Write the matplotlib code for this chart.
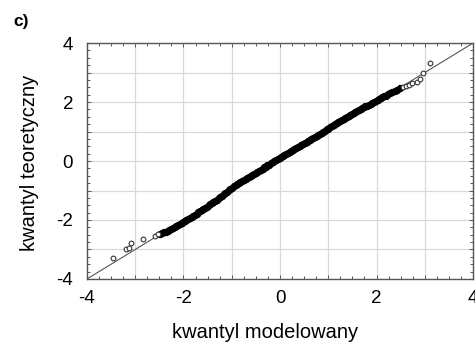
import matplotlib
matplotlib.use('Agg')
import matplotlib.pyplot as plt
from matplotlib.ticker import MultipleLocator, FuncFormatter

plt.rcParams['font.family'] = ['Liberation Sans', 'DejaVu Sans']

# kwantyle: modelowany (x) i teoretyczny (y)
x_tail_low = [-3.46, -3.19, -3.12, -3.08, -2.84, -2.59, -2.53]
y_tail_low = [-3.29, -2.98, -2.95, -2.79, -2.64, -2.54, -2.49]

x_band = [-2.49, -2.45, -2.41, -2.36, -2.33, -2.29, -2.25, -2.22, -2.18, -2.15,
          -2.11, -2.08, -2.04, -2.01, -1.97, -1.94, -1.90, -1.87, -1.83, -1.80,
          -1.76, -1.73, -1.69, -1.66, -1.62, -1.59, -1.55, -1.52, -1.48, -1.45,
          -1.41, -1.38, -1.34, -1.31, -1.27, -1.24, -1.20, -1.17, -1.13, -1.10,
          -1.06, -1.03, -0.99, -0.96, -0.92, -0.89, -0.85, -0.82, -0.78, -0.75,
          -0.71, -0.68, -0.64, -0.61, -0.57, -0.54, -0.50, -0.47, -0.43, -0.40,
          -0.36, -0.33, -0.29, -0.26, -0.22, -0.19, -0.15, -0.12, -0.08, -0.05,
          -0.01, 0.02, 0.06, 0.09, 0.13, 0.16, 0.20, 0.23, 0.27, 0.30,
          0.34, 0.37, 0.41, 0.44, 0.48, 0.51, 0.55, 0.58, 0.62, 0.65,
          0.69, 0.72, 0.76, 0.79, 0.83, 0.86, 0.90, 0.93, 0.97, 1.00,
          1.04, 1.07, 1.11, 1.14, 1.18, 1.21, 1.25, 1.28, 1.32, 1.35,
          1.39, 1.42, 1.46, 1.49, 1.53, 1.56, 1.60, 1.63, 1.67, 1.70,
          1.74, 1.77, 1.81, 1.84, 1.88, 1.91, 1.95, 1.98, 2.02, 2.05,
          2.09, 2.12, 2.16, 2.20, 2.24, 2.28, 2.33, 2.38, 2.43, 2.49]
y_band = [-2.46, -2.44, -2.42, -2.39, -2.37, -2.34, -2.31, -2.27, -2.24, -2.20,
          -2.17, -2.13, -2.10, -2.06, -2.03, -1.99, -1.96, -1.92, -1.89, -1.85,
          -1.82, -1.78, -1.74, -1.71, -1.67, -1.63, -1.58, -1.55, -1.50, -1.47,
          -1.42, -1.39, -1.34, -1.31, -1.26, -1.22, -1.17, -1.13, -1.08, -1.04,
          -0.99, -0.95, -0.90, -0.86, -0.82, -0.78, -0.75, -0.71, -0.68, -0.64,
          -0.61, -0.57, -0.54, -0.50, -0.47, -0.43, -0.40, -0.36, -0.33, -0.29,
          -0.26, -0.22, -0.19, -0.15, -0.12, -0.08, -0.05, -0.01, 0.02, 0.06,
          0.10, 0.13, 0.17, 0.20, 0.24, 0.27, 0.31, 0.34, 0.38, 0.41,
          0.45, 0.48, 0.52, 0.55, 0.58, 0.62, 0.65, 0.69, 0.72, 0.75,
          0.79, 0.82, 0.86, 0.89, 0.93, 0.96, 1.00, 1.03, 1.07, 1.10,
          1.14, 1.17, 1.21, 1.24, 1.28, 1.31, 1.35, 1.38, 1.42, 1.45,
          1.49, 1.52, 1.56, 1.59, 1.63, 1.66, 1.70, 1.73, 1.76, 1.79,
          1.82, 1.85, 1.88, 1.91, 1.94, 1.97, 2.01, 2.04, 2.07, 2.10,
          2.13, 2.16, 2.19, 2.22, 2.26, 2.29, 2.33, 2.37, 2.42, 2.47]

x_tail_high = [2.55, 2.60, 2.67, 2.74, 2.83, 2.91, 2.97, 3.10]
y_tail_high = [2.51, 2.54, 2.58, 2.64, 2.68, 2.78, 2.98, 3.32]

LIMITS = [-4, 4]

fig = plt.figure(figsize=(4.75, 3.47), dpi=100)
ax = fig.add_axes([0.183, 0.196, 0.813, 0.680])

# linia odniesienia y = x
ax.plot(LIMITS, LIMITS, color='#555555', linewidth=0.8, zorder=2)

# gęsta środkowa część - punkty nakładają się w ciemny pas
ax.plot(x_band, y_band, linestyle='none', marker='o', markersize=4.3,
        markerfacecolor='black', markeredgecolor='black',
        markeredgewidth=1.0, zorder=3)
# pojedyncze punkty w ogonach
ax.plot(x_tail_low + x_tail_high, y_tail_low + y_tail_high, linestyle='none',
        marker='o', markersize=3.4, markerfacecolor='white',
        markeredgecolor='#333333', markeredgewidth=0.8, zorder=3)

ax.set_xlim(LIMITS)
ax.set_ylim(LIMITS)

even_only = FuncFormatter(lambda v, pos: f"{int(round(v))}" if round(v) % 2 == 0 else "")
for axis in (ax.xaxis, ax.yaxis):
    axis.set_major_locator(MultipleLocator(1))
    axis.set_minor_locator(MultipleLocator(0.25))
    axis.set_major_formatter(even_only)

ax.grid(True, which='major', color='#d9d9d9', linewidth=0.9, zorder=0)
ax.set_axisbelow(True)
ax.tick_params(which='both', direction='in', top=True, right=True,
               color='#555555', width=0.7)
ax.tick_params(which='major', length=3, labelsize=13.5)
ax.tick_params(axis='x', which='major', pad=8)
ax.tick_params(axis='y', which='major', pad=10)
ax.tick_params(which='minor', length=2)

for s in ax.spines.values():
    s.set_color('#555555')
    s.set_linewidth(1.0)

ax.set_xlabel("kwantyl modelowany", fontsize=14.5)
ax.set_ylabel("kwantyl teoretyczny", fontsize=14.5)
ax.xaxis.set_label_coords(0.462, -0.185)
ax.yaxis.set_label_coords(-0.125, 0.49)
fig.text(0.028, 0.925, "c)", fontsize=12.5, fontweight='bold')

fig.savefig("out.png", dpi=100)
